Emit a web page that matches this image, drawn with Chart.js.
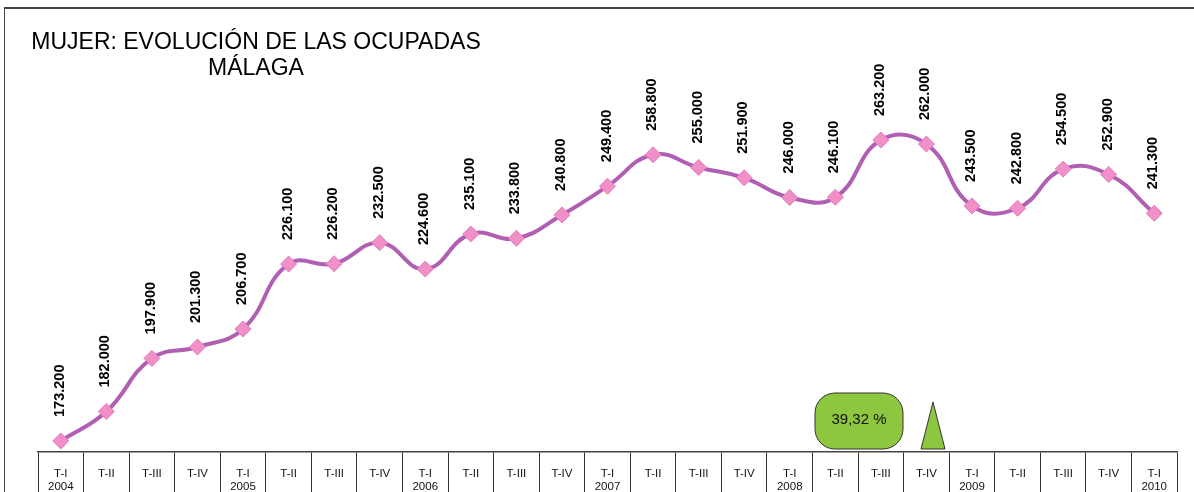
<!DOCTYPE html>
<html>
<head>
<meta charset="utf-8">
<script src="https://cdn.jsdelivr.net/npm/chart.js@4/dist/chart.umd.min.js"></script>
<style>
  body { margin: 0; background: #fff; }
  canvas { display: block; }
</style>
</head>
<body>
<canvas id="line-chart" width="1194" height="492"></canvas>
<script>
// trimestres 2004 T-I .. 2010 T-I
const quarters = ["T-I", "T-II", "T-III", "T-IV"];
const years = ["2004", "2005", "2006", "2007", "2008", "2009", "2010"];
const ocupadas = [
    173200, 182000, 197900, 201300,
    206700, 226100, 226200, 232500,
    224600, 235100, 233800, 240800,
    249400, 258800, 255000, 251900,
    246000, 246100, 263200, 262000,
    243500, 242800, 254500, 252900,
    241300
];
const titleLines = ["MUJER: EVOLUCIÓN DE LAS OCUPADAS", "MÁLAGA"];
const badgeText = "39,32 %";

// labels: "T-I" gets the year underneath
const labels = [];
for (let i = 0; i < ocupadas.length; i++) {
    const q = quarters[i % 4];
    if (i % 4 === 0) labels.push([q, years[i / 4]]);
    else labels.push(q);
}

function fmt(v) {
    return String(v).replace(/\B(?=(\d{3})+(?!\d))/g, ".");
}

const decorations = {
    id: 'decorations',
    beforeDraw(chart) {
        const ctx = chart.ctx;
        ctx.save();
        // frame
        ctx.strokeStyle = "#444";
        ctx.lineWidth = 1;
        ctx.beginPath();
        ctx.moveTo(4.5, 492);
        ctx.lineTo(4.5, 8);
        ctx.stroke();
        ctx.lineWidth = 2;
        ctx.beginPath();
        ctx.moveTo(4, 8);
        ctx.lineTo(1194, 8);
        ctx.stroke();
        // title
        ctx.fillStyle = "#000";
        ctx.font = "23px 'Liberation Sans', Arial, sans-serif";
        ctx.textAlign = "center";
        ctx.textBaseline = "alphabetic";
        ctx.fillText(titleLines[0], 256, 49);
        ctx.fillText(titleLines[1], 256, 75);
        ctx.restore();
    },
    afterDatasetsDraw(chart) {
        const ctx = chart.ctx;
        const meta = chart.getDatasetMeta(0);
        ctx.save();
        ctx.fillStyle = "#000";
        ctx.font = "bold 14.5px 'Liberation Sans', Arial, sans-serif";
        ctx.textAlign = "left";
        ctx.textBaseline = "middle";
        meta.data.forEach((pt, i) => {
            ctx.save();
            ctx.translate(pt.x - 1, pt.y - 24);
            ctx.rotate(-Math.PI / 2);
            ctx.fillText(fmt(ocupadas[i]), 0, 0);
            ctx.restore();
        });

        // green badge + triangle
        ctx.fillStyle = "#8dc63f";
        ctx.strokeStyle = "#333";
        ctx.lineWidth = 1;
        ctx.beginPath();
        ctx.roundRect(815, 393, 88, 56, 20);
        ctx.fill();
        ctx.stroke();
        ctx.fillStyle = "#111";
        ctx.font = "15px 'Liberation Sans', Arial, sans-serif";
        ctx.textAlign = "center";
        ctx.fillText(badgeText, 859, 420);

        ctx.fillStyle = "#8dc63f";
        ctx.beginPath();
        ctx.moveTo(933, 402);
        ctx.lineTo(945, 449);
        ctx.lineTo(921, 449);
        ctx.closePath();
        ctx.fill();
        ctx.stroke();
        ctx.restore();
    }
};

new Chart(document.getElementById("line-chart"), {
    type: 'line',
    data: {
        labels: labels,
        datasets: [{
            data: ocupadas,
            borderColor: "#b15fb2",
            borderWidth: 4,
            tension: 0.45,
            fill: false,
            pointStyle: 'rectRot',
            pointRadius: 8,
            pointBackgroundColor: "#f190c8",
            pointBorderColor: "#e07cbb",
            pointBorderWidth: 1
        }]
    },
    options: {
        responsive: false,
        animation: false,
        layout: { padding: { left: 38, right: 17, top: 17, bottom: 0 } },
        plugins: {
            legend: { display: false },
            title: { display: false },
            tooltip: { enabled: false }
        },
        scales: {
            x: {
                offset: true,
                afterFit(scale) { scale.height = 40; },
                border: { display: true, color: "#444", width: 1.5 },
                grid: {
                    offset: true,
                    drawOnChartArea: false,
                    drawTicks: true,
                    tickLength: 40,
                    color: "#333",
                    lineWidth: 1
                },
                ticks: {
                    autoSkip: false,
                    maxRotation: 0,
                    padding: -24.5,
                    color: "#111",
                    font: { family: "'Liberation Sans', Arial, sans-serif", size: 11.5, lineHeight: 1.13 }
                }
            },
            y: {
                display: false,
                min: 169900,
                max: 300000
            }
        }
    },
    plugins: [decorations]
});
</script>
</body>
</html>
